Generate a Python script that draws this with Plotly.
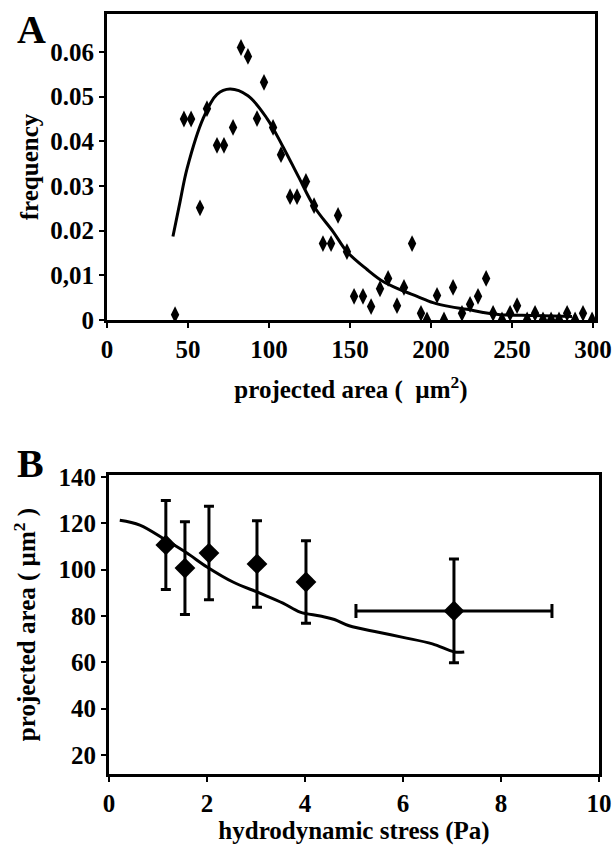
import plotly.graph_objects as go

# ---------- Panel A data ----------
area_x = [42.0, 47.5, 51.9, 57.4, 61.7, 67.9, 72.2, 77.8, 82.7, 87.0, 92.6, 96.9,
          102.5, 107.4, 113.0, 117.3, 122.8, 127.8, 133.3, 138.3, 142.6, 148.1,
          152.5, 158.0, 163.0, 168.5, 173.5, 179.0, 183.3, 188.3, 193.8, 197.5,
          203.7, 208.0, 213.6, 219.1, 224.1, 229.0, 234.0, 238.3, 243.8, 248.8,
          253.1, 259.3, 264.2, 269.1, 274.1, 279.0, 284.0, 288.9, 293.8, 299.4]
freq = [0.0012, 0.045, 0.045, 0.0251, 0.0473, 0.0391, 0.0391, 0.0431, 0.061, 0.059,
        0.0451, 0.0532, 0.0431, 0.037, 0.0276, 0.0276, 0.031, 0.0256, 0.0171, 0.0171,
        0.0234, 0.0153, 0.0053, 0.0053, 0.003, 0.007, 0.0093, 0.0032, 0.0073, 0.0171,
        0.0015, 0.0, 0.0055, 0.0, 0.0073, 0.0015, 0.0035, 0.0053, 0.0093, 0.0015,
        0.0, 0.0015, 0.0032, 0.0, 0.0015, 0.0, 0.0, 0.0, 0.0015, 0.0, 0.0015, 0.0]

fit_x = [40.7, 45.1, 49.4, 59.3, 67.9, 75.9, 87.0, 98.8, 108.6, 118.0, 128.0, 139.5,
         148.1, 160.5, 170.4, 180.9, 191.4, 201.2, 211.7, 222.2, 232.1, 242.6, 263.0, 287.0]
fit_y = [0.0187, 0.0265, 0.0339, 0.0451, 0.0505, 0.0517, 0.0502, 0.0451, 0.0388, 0.0322,
         0.0253, 0.0198, 0.0153, 0.0113, 0.0086, 0.0068, 0.0053, 0.0039, 0.003, 0.0024,
         0.0017, 0.0012, 0.001, 0.0008]

a_xticks = [0, 50, 100, 150, 200, 250, 300]
a_yticks = [0, 0.01, 0.02, 0.03, 0.04, 0.05, 0.06]
a_yticktext = ["0", "0,01", "0.02", "0.03", "0.04", "0.05", "0.06"]

# ---------- Panel B data ----------
stress = [1.16, 1.55, 2.04, 3.02, 4.02, 7.04]
area = [110.7, 100.7, 107.2, 102.5, 94.7, 82.2]
area_err = [19.2, 20.0, 20.2, 18.7, 17.8, 22.4]
stress_err = [0, 0, 0, 0, 0, 2.0]

model_x = [0.22, 0.63, 1.16, 1.59, 2.0, 2.53, 3.08, 3.55, 3.9, 4.31, 4.6, 4.9,
           5.5, 6.0, 6.6, 7.05, 7.25]
model_y = [121.4, 119.3, 112.8, 107.2, 101.2, 94.7, 89.9, 85.6, 81.7, 80.0, 78.5,
           75.8, 73.0, 70.8, 68.0, 64.5, 64.5]

b_xticks = [0, 2, 4, 6, 8, 10]
b_yticks = [20, 40, 60, 80, 100, 120, 140]

FONT = "Liberation Serif"
W, H = 613, 848

def px_x(p):
    return p / W

def px_y(p):
    return 1 - p / H

fig = go.Figure()

fig.add_trace(go.Scatter(x=area_x, y=freq, mode="markers",
                         marker=dict(symbol="diamond-tall", size=12, color="black"),
                         xaxis="x", yaxis="y", showlegend=False))
fig.add_trace(go.Scatter(x=fit_x, y=fit_y, mode="lines",
                         line=dict(color="black", width=3, shape="spline"),
                         xaxis="x", yaxis="y", showlegend=False))

fig.add_trace(go.Scatter(x=model_x, y=model_y, mode="lines",
                         line=dict(color="black", width=3, shape="spline"),
                         xaxis="x2", yaxis="y2", showlegend=False))
fig.add_trace(go.Scatter(x=stress, y=area, mode="markers",
                         marker=dict(symbol="diamond", size=16, color="black"),
                         error_y=dict(type="data", array=area_err, color="black",
                                      thickness=3, width=5),
                         error_x=dict(type="data", array=stress_err, color="black",
                                      thickness=3, width=7),
                         xaxis="x2", yaxis="y2", showlegend=False))

tickfont = dict(family=FONT, size=25, color="black", weight="bold")
titlefont = dict(family=FONT, size=25, color="black", weight="bold")

axis_common = dict(showline=True, linecolor="black", linewidth=3, mirror=True,
                   showgrid=False, zeroline=False, ticks="outside", ticklen=5,
                   tickwidth=2, tickcolor="black", tickfont=tickfont,
                   automargin=False)

fig.update_layout(
    width=W, height=H,
    margin=dict(l=0, r=0, t=0, b=0),
    paper_bgcolor="white", plot_bgcolor="white",
    xaxis=dict(domain=[px_x(107), px_x(595)], range=[0, 301.2], anchor="y",
               tickvals=a_xticks,
               title=dict(text="projected area (  µm<sup>2</sup>)", font=titlefont, standoff=19),
               **axis_common),
    yaxis=dict(domain=[px_y(320), px_y(14)], range=[0, 0.0685], anchor="x",
               tickvals=a_yticks, ticktext=a_yticktext,
               title=dict(text="frequency", font=titlefont, standoff=5),
               **axis_common),
    xaxis2=dict(domain=[px_x(109), px_x(599)], range=[0, 10], anchor="y2",
                tickvals=b_xticks,
                title=dict(text="hydrodynamic stress (Pa)", font=titlefont, standoff=6),
                **axis_common),
    yaxis2=dict(domain=[px_y(774), px_y(475)], range=[11.8, 140.9], anchor="x2",
                tickvals=b_yticks,
                title=dict(text="projected area ( µm<sup>2</sup> )", font=titlefont, standoff=16),
                **axis_common),
    annotations=[
        dict(text="A", x=px_x(31), y=px_y(29), xref="paper", yref="paper",
             showarrow=False, xanchor="center", yanchor="middle",
             font=dict(family=FONT, size=40, color="black", weight="bold")),
        dict(text="B", x=px_x(30), y=px_y(463), xref="paper", yref="paper",
             showarrow=False, xanchor="center", yanchor="middle",
             font=dict(family=FONT, size=40, color="black", weight="bold")),
    ],
)

# remove the browser's default 8px body margin so the figure fills the window exactly
fig.write_html("out.html",
               config={"displayModeBar": False},
               post_script="document.body.style.margin='0';document.body.style.overflow='hidden';")
